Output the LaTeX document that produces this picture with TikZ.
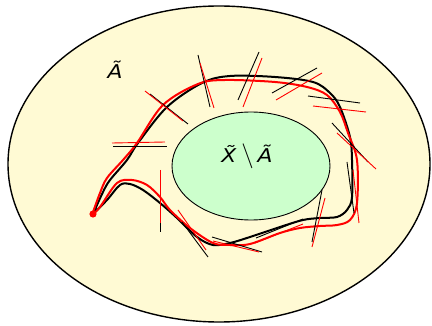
\documentclass[tikz,border=0pt]{standalone}
\usepackage{fontspec}
\setmainfont{DejaVu Sans}
\newfontfamily\lblfont[FakeStretch=1.15]{DejaVu Sans}
\usetikzlibrary{shapes.geometric}
\definecolor{outerfill}{RGB}{255,250,212}
\definecolor{innerfill}{RGB}{204,255,204}
\definecolor{myred}{RGB}{255,0,0}
\tikzset{
  region/.style={ellipse, draw=black, inner sep=0pt},
  blackpath/.style={draw=black, line width=2pt, line join=round},
  redpath/.style={draw=myred, line width=2pt, line join=round},
  blacktick/.style={draw=black, line width=0.9pt},
  redtick/.style={draw=myred, line width=0.9pt},
  lbl/.style={font=\lblfont\fontsize{19}{22}\selectfont\itshape, inner sep=0pt, anchor=base}
}
\begin{document}
\begin{tikzpicture}[x=1pt,y=-1pt]
\useasboundingbox (0,0) rectangle (432,326);
\node[region, line width=1.4pt, fill=outerfill, minimum width=422pt, minimum height=316pt] (outer) at (219,164) {};
\node[region, line width=0.9pt, fill=innerfill, minimum width=158pt, minimum height=108pt] (inner) at (251,166) {};
\node[lbl] (Alab) at (115,79) {\~A};
\node[lbl] (XAlab) at (247,163) {\~X\hspace{5pt}{\fontsize{24}{24}\selectfont$\setminus$}\hspace{4pt}\~A};
\coordinate (start) at (93,214);
% black loop
\draw[blackpath] plot[smooth, tension=0.55] coordinates {
 (93,214) (103,192) (110,180) (127,160) (138,143) (167,107) (202,83) (230,76)
 (275,77) (313,82) (330,93) (340,107) (350,137) (352,160) (352,197) (347,210)
 (337,217) (320,218) (303,220) (280,227) (250,237) (230,243) (213,245) (197,237)
 (177,218) (160,203) (143,190) (130,184) (120,185) (107,200) (93,214)};
% red loop
\draw[redpath] plot[smooth, tension=0.55] coordinates {
 (92,215) (100,193) (107,178) (123,160) (137,143) (163,105) (198,84) (225,80)
 (275,82) (307,87) (327,95) (340,112) (348,133) (357,160) (357,203) (350,220)
 (337,225) (320,226) (300,228) (280,233) (250,244) (230,245) (213,243) (190,228)
 (170,210) (160,197) (147,185) (132,180) (117,183) (100,207) (92,215)};
\fill[myred] (start) circle (3.6pt);
% ticks
\draw[blacktick] (198,55) -- (210,107);   \draw[redtick] (200,63) -- (214,108);
\draw[blacktick] (259,52) -- (238,100);   \draw[redtick] (262,58) -- (243,107);
\draw[blacktick] (150,94) -- (188,124);   \draw[redtick] (145,91) -- (183,121);
\draw[blacktick] (113,146) -- (167,146);  \draw[redtick] (112,143) -- (165,142);
\draw[blacktick] (272,93) -- (317,68);    \draw[redtick] (276,100) -- (322,73);
\draw[blacktick] (308,96) -- (360,103);   \draw[redtick] (313,106) -- (366,112);
\draw[blacktick] (332,123) -- (368,162);  \draw[redtick] (337,133) -- (376,169);
\draw[blacktick] (347,162) -- (354,213);  \draw[redtick] (353,170) -- (359,223);
\draw[blacktick] (322,190) -- (312,242);  \draw[redtick] (325,198) -- (312,247);
\draw[blacktick] (212,237) -- (262,252);  \draw[redtick] (213,241) -- (259,252);
\draw[blacktick] (182,222) -- (208,257);  \draw[redtick] (178,210) -- (206,250);
\draw[blacktick] (160,178) -- (160,232);  \draw[redtick] (160,170) -- (160,223);
\draw[blacktick] (256,238) -- (303,219);  \draw[redtick] (255,243) -- (303,224);
\end{tikzpicture}
\end{document}
